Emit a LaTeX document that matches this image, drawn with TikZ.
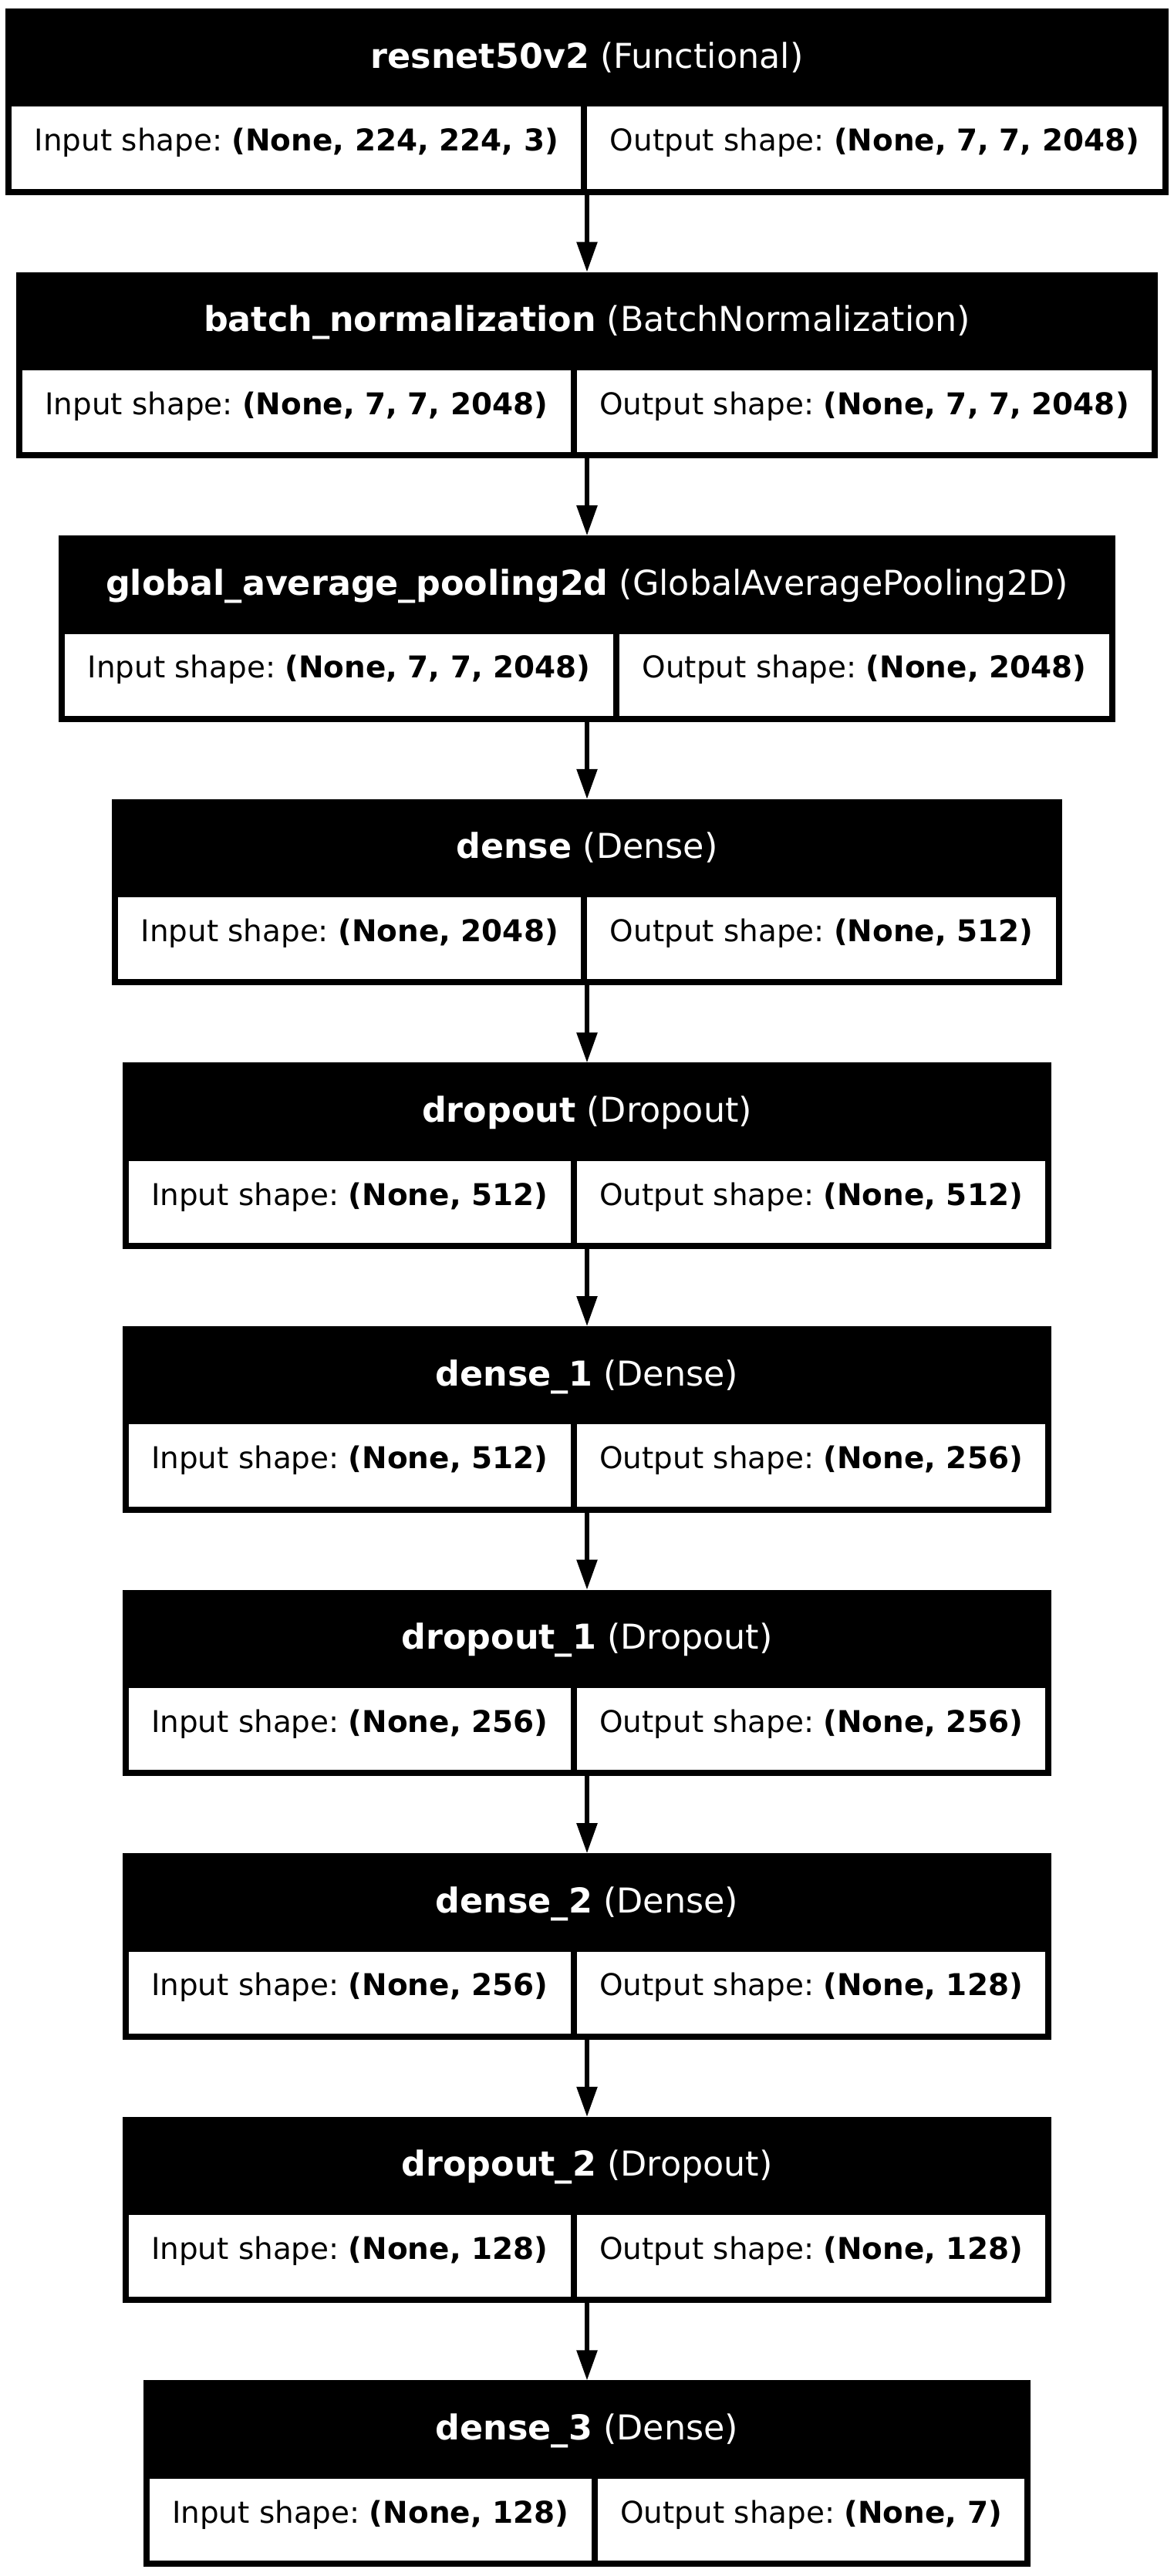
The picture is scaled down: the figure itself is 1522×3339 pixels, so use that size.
\documentclass[tikz,border=0pt]{standalone}
\usepackage{fontspec}
\setmainfont{DejaVu Sans}
\usetikzlibrary{arrows.meta}
\frenchspacing
\newlength\lwid
\newlength\rwid
\newcommand\bodyfont{\fontsize{38.89}{46}\selectfont}
\newcommand\headfont{\fontsize{44.44}{52}\selectfont}
\tikzset{
  boxouter/.style={fill=black, draw=none, inner sep=0pt, outer sep=0pt, anchor=north, minimum height=241.5pt},
  headtext/.style={text=white, font=\headfont, inner sep=0pt, text height=0.76em, text depth=0.132em},
  cellbox/.style={fill=white, draw=none, inner sep=0pt, outer sep=0pt, anchor=north west,
    minimum height=106.2pt, font=\bodyfont, text height=1.07em, text depth=0.2em},
  flow/.style={line width=5.6pt, -{Triangle[length=39pt,width=26pt]}},
}
\makeatletter
\newcommand\layerdef[4]{%
  \expandafter\def\csname hd#1\endcsname{#2}%
  \expandafter\def\csname lt#1\endcsname{#3}%
  \expandafter\def\csname rt#1\endcsname{#4}%
  \settowidth\lwid{\bodyfont #3}%
  \settowidth\rwid{\bodyfont #4}%
  \expandafter\xdef\csname lw#1\endcsname{\strip@pt\lwid}%
  \expandafter\xdef\csname rw#1\endcsname{\strip@pt\rwid}%
}
\makeatother
\newcommand\layer[2]{%
  \pgfmathsetmacro\lcw{\csname lw#1\endcsname+59}%
  \pgfmathsetmacro\rcw{\csname rw#1\endcsname+59}%
  \pgfmathsetmacro\boxw{8+\lcw+8+\rcw+8}%
  \pgfmathsetmacro\xa{761-\boxw/2}%
  \node[boxouter, minimum width=\boxw pt] (#1) at (761,#2) {};
  \node[headtext] (#1-head) at (761,#2+74) {\csname hd#1\endcsname};
  \node[cellbox, minimum width=\lcw pt] (#1-in) at (\xa+8,#2+127.3) {\csname lt#1\endcsname};
  \node[cellbox, minimum width=\rcw pt] (#1-out) at (\xa+16+\lcw,#2+127.3) {\csname rt#1\endcsname};
}
\begin{document}
\layerdef{b1}{\textbf{resnet50v2} (Functional)}{Input shape: \textbf{(None, 224, 224, 3)}}{Output shape: \textbf{(None, 7, 7, 2048)}}%
\layerdef{b2}{\textbf{batch\_normalization} (BatchNormalization)}{Input shape: \textbf{(None, 7, 7, 2048)}}{Output shape: \textbf{(None, 7, 7, 2048)}}%
\layerdef{b3}{\textbf{global\_average\_pooling2d} (GlobalAveragePooling2D)}{Input shape: \textbf{(None, 7, 7, 2048)}}{Output shape: \textbf{(None, 2048)}}%
\layerdef{b4}{\textbf{dense} (Dense)}{Input shape: \textbf{(None, 2048)}}{Output shape: \textbf{(None, 512)}}%
\layerdef{b5}{\textbf{dropout} (Dropout)}{Input shape: \textbf{(None, 512)}}{Output shape: \textbf{(None, 512)}}%
\layerdef{b6}{\textbf{dense\_1} (Dense)}{Input shape: \textbf{(None, 512)}}{Output shape: \textbf{(None, 256)}}%
\layerdef{b7}{\textbf{dropout\_1} (Dropout)}{Input shape: \textbf{(None, 256)}}{Output shape: \textbf{(None, 256)}}%
\layerdef{b8}{\textbf{dense\_2} (Dense)}{Input shape: \textbf{(None, 256)}}{Output shape: \textbf{(None, 128)}}%
\layerdef{b9}{\textbf{dropout\_2} (Dropout)}{Input shape: \textbf{(None, 128)}}{Output shape: \textbf{(None, 128)}}%
\layerdef{b10}{\textbf{dense\_3} (Dense)}{Input shape: \textbf{(None, 128)}}{Output shape: \textbf{(None, 7)}}%
\begin{tikzpicture}[x=1pt,y=-1pt]
\fill[white] (0,0) rectangle (1522,3339);
\useasboundingbox (0,0) rectangle (1522,3339);
\layer{b1}{11}
\layer{b2}{352.6}
\layer{b3}{694.2}
\layer{b4}{1035.8}
\layer{b5}{1377.4}
\layer{b6}{1719}
\layer{b7}{2060.6}
\layer{b8}{2402.2}
\layer{b9}{2743.8}
\layer{b10}{3085.4}
\draw[flow] (b1.south) -- (b2.north);
\draw[flow] (b2.south) -- (b3.north);
\draw[flow] (b3.south) -- (b4.north);
\draw[flow] (b4.south) -- (b5.north);
\draw[flow] (b5.south) -- (b6.north);
\draw[flow] (b6.south) -- (b7.north);
\draw[flow] (b7.south) -- (b8.north);
\draw[flow] (b8.south) -- (b9.north);
\draw[flow] (b9.south) -- (b10.north);
\end{tikzpicture}
\end{document}
